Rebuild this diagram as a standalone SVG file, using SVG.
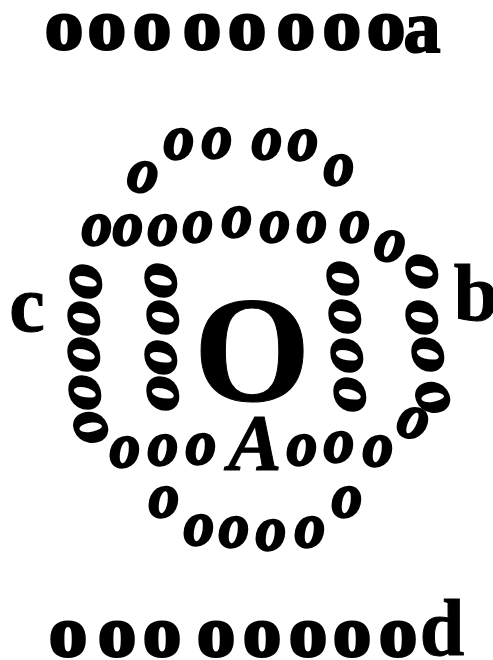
<svg xmlns="http://www.w3.org/2000/svg" width="493" height="660" viewBox="0 0 493 660">
<style>
text{font-family:"Liberation Serif","Times New Roman",serif;font-weight:700;fill:#000;stroke:#000;text-anchor:middle}
.r{font-size:72px;stroke-width:3}
.ra{font-size:74px;stroke-width:2}
.i{font-size:64px;font-style:italic;stroke-width:2.5}
.lab{font-size:80px;stroke-width:1}
.big{font-size:150px;stroke-width:1}
</style>
<rect width="493" height="660" fill="#fff"/>
<g id="top-row">
<text class="r" transform="scale(1.06 1)" x="60.4 100.9 143.4 190.6 233 279.2 322.6 364.2" y="49">oooooooo</text>
<text class="ra" x="422" y="52">a</text>
</g>
<g id="bottom-row">
<text class="r" transform="scale(1.06 1)" x="64.2 110.4 152.8 203.8 247.2 290.6 332.1 375.5" y="656">oooooooo</text>
<text class="lab" x="442" y="655">d</text>
</g>
<g id="upper-arc">
<text class="i" transform="translate(143 177) rotate(8) scale(0.95 1)" y="15">o</text>
<text class="i" transform="translate(179 144) scale(0.95 1)" y="15">o</text>
<text class="i" transform="translate(217 143) scale(0.95 1)" y="15">o</text>
<text class="i" transform="translate(267 144) scale(0.95 1)" y="15">o</text>
<text class="i" transform="translate(303 145) scale(0.95 1)" y="15">o</text>
<text class="i" transform="translate(339 170) scale(0.95 1)" y="15">o</text>
</g>
<g id="second-row">
<text class="i" transform="translate(97 230) scale(0.95 1)" y="15">o</text>
<text class="i" transform="translate(128 230) scale(0.95 1)" y="15">o</text>
<text class="i" transform="translate(163 230) scale(0.95 1)" y="15">o</text>
<text class="i" transform="translate(198 227) scale(0.95 1)" y="15">o</text>
<text class="i" transform="translate(237 222) scale(0.95 1)" y="15">o</text>
<text class="i" transform="translate(275 227) scale(0.95 1)" y="15">o</text>
<text class="i" transform="translate(312 227) scale(0.95 1)" y="15">o</text>
<text class="i" transform="translate(355 227) scale(0.95 1)" y="15">o</text>
<text class="i" transform="translate(390 246) rotate(10) scale(0.95 1)" y="15">o</text>
</g>
<g id="left-outer">
<text class="i" transform="translate(86 282) rotate(90) scale(1.1 1)" y="15">o</text>
<text class="i" transform="translate(84 319) rotate(90) scale(1.1 1)" y="15">o</text>
<text class="i" transform="translate(84 355) rotate(90) scale(1.1 1)" y="15">o</text>
<text class="i" transform="translate(85 393) rotate(90) scale(1.1 1)" y="15">o</text>
<text class="i" transform="translate(91 428) rotate(70) scale(1.05 1)" y="15">o</text>
</g>
<g id="left-inner">
<text class="i" transform="translate(161 281) rotate(90) scale(1.1 1)" y="15">o</text>
<text class="i" transform="translate(163 318) rotate(90) scale(1.1 1)" y="15">o</text>
<text class="i" transform="translate(161 358) rotate(90) scale(1.1 1)" y="15">o</text>
<text class="i" transform="translate(163 394) rotate(90) scale(1.1 1)" y="15">o</text>
</g>
<g id="right-inner">
<text class="i" transform="translate(343 279) rotate(90) scale(1.1 1)" y="15">o</text>
<text class="i" transform="translate(345 317) rotate(90) scale(1.1 1)" y="15">o</text>
<text class="i" transform="translate(347 356) rotate(90) scale(1.1 1)" y="15">o</text>
<text class="i" transform="translate(350 395) rotate(90) scale(1.1 1)" y="15">o</text>
</g>
<g id="right-outer">
<text class="i" transform="translate(422 272) rotate(90) scale(1.1 1)" y="15">o</text>
<text class="i" transform="translate(422 318) rotate(90) scale(1.1 1)" y="15">o</text>
<text class="i" transform="translate(428 355) rotate(90) scale(1.1 1)" y="15">o</text>
<text class="i" transform="translate(433 398) rotate(70) scale(1.05 1)" y="15">o</text>
<text class="i" transform="translate(413 423) rotate(15) scale(0.95 1)" y="15">o</text>
</g>
<g id="lower-row">
<text class="i" transform="translate(125 452) scale(0.95 1)" y="15">o</text>
<text class="i" transform="translate(163 450) scale(0.95 1)" y="15">o</text>
<text class="i" transform="translate(201 449) scale(0.95 1)" y="15">o</text>
<text class="i" transform="translate(302 450) scale(0.95 1)" y="15">o</text>
<text class="i" transform="translate(339 447) scale(0.95 1)" y="15">o</text>
<text class="i" transform="translate(378 451) scale(0.95 1)" y="15">o</text>
</g>
<g id="lower-arc">
<text class="i" transform="translate(164 502) scale(0.95 1)" y="15">o</text>
<text class="i" transform="translate(199 530) scale(0.95 1)" y="15">o</text>
<text class="i" transform="translate(234 532) scale(0.95 1)" y="15">o</text>
<text class="i" transform="translate(271 535) scale(0.95 1)" y="15">o</text>
<text class="i" transform="translate(310 532) scale(0.95 1)" y="15">o</text>
<text class="i" transform="translate(347 502) scale(0.95 1)" y="15">o</text>
</g>
<g id="labels">
<text class="big" x="252" y="401">O</text>
<text class="lab" x="27" y="331">c</text>
<text class="lab" x="476" y="320">b</text>
<text class="lab" x="255" y="470" font-style="italic">A</text>
</g>
</svg>
